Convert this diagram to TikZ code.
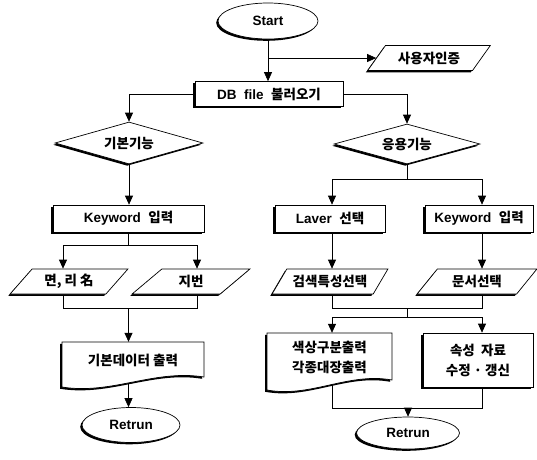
\documentclass[tikz,border=0pt]{standalone}
\usepackage{fontspec}
\setmainfont{Liberation Sans}
\newfontfamily\kr{Noto Sans CJK KR}
\usetikzlibrary{shapes.geometric,shadows,arrows.meta,backgrounds}
\newcommand\mydoc[5]{%
  \pgfmathsetmacro\cxa{#2-0.35*(#2-#1)}%
  \pgfmathsetmacro\cxb{#1+0.35*(#2-#1)}%
  \pgfmathsetmacro\cya{#4-8}%
  \pgfmathsetmacro\cyb{#5+8}%
  \fill[black,shift={(-1.8,1.8)}] (#1,#3) -- (#2,#3) -- (#2,#4) .. controls (\cxa,\cya) and (\cxb,\cyb) .. (#1,#5) -- cycle;
  \draw[fill=white,line width=0.7pt] (#1,#3) -- (#2,#3) -- (#2,#4) .. controls (\cxa,\cya) and (\cxb,\cyb) .. (#1,#5) -- cycle;}
\begin{document}
\begin{tikzpicture}[x=1pt,y=-1pt,
  every node/.style={font=\fontsize{13.5}{20}\selectfont\bfseries},
  shad/.style={drop shadow={shadow xshift=-1.8pt,shadow yshift=-1.8pt,fill=black,opacity=1}},
  box/.style={rectangle,draw,fill=white,line width=0.7pt,inner sep=0pt,align=center,shad},
  term/.style={ellipse,draw,fill=white,line width=0.7pt,inner sep=0pt,shad},
  dia/.style={diamond,aspect=3.5,draw,fill=white,line width=0.7pt,inner sep=0pt,shad},
  para/.style={trapezium,trapezium left angle=45,trapezium right angle=135,trapezium stretches=true,draw,fill=white,line width=0.7pt,inner sep=0pt,shad},
  txt/.style={rectangle,inner sep=0pt,align=center},
  arr/.style={-{Triangle[length=9pt,width=8pt]},line width=0.7pt},
  con/.style={line width=0.7pt}]
\useasboundingbox (0,0) rectangle (537,459);

\node[term,minimum width=100,minimum height=36] (start) at (268,21) {Start};
\node[para,minimum width=123,minimum height=25] (auth) at (429,58) {\kr 사용자인증};
\node[box,minimum width=148,minimum height=25] (db) at (269,94) {DB\ \ file\ \ {\kr 불러오기}};
\node[dia,minimum width=148,minimum height=42] (d1) at (129,143) {\kr 기본기능};
\node[dia,minimum width=146,minimum height=40] (d2) at (407,144) {\kr 응용기능};
\node[box,minimum width=151,minimum height=27] (k1) at (128.5,218.5) {Keyword\ \ {\kr 입력}};
\node[para,minimum width=118,minimum height=25] (p1) at (69,281.5) {\kr 면,\ 리\ 名};
\node[para,minimum width=118,minimum height=25] (p2) at (191,281.5) {\kr 지번};
\node[box,minimum width=110,minimum height=27] (k2l) at (330,218.5) {Laver\ \ {\kr 선택}};
\node[box,minimum width=108,minimum height=27] (k2r) at (479,218.5) {Keyword\ \ {\kr 입력}};
\node[para,minimum width=116,minimum height=25] (p3) at (330,281.5) {\kr 검색특성선택};
\node[para,minimum width=120,minimum height=25] (p4) at (477,281.5) {\kr 문서선택};

\mydoc{62}{204}{342}{377}{387}
\node[txt,minimum width=142,minimum height=36] (out1) at (133,360) {\kr 기본데이터\ 출력};
\mydoc{267}{392}{333}{380}{390}
\node[txt,minimum width=125,minimum height=48] (out2) at (329.5,357) {\kr 색상구분출력\\\kr 각종대장출력};
\node[box,minimum width=110,minimum height=54] (k3) at (478,360) {\kr 속성\ \ 자료\\\kr 수정\ ·\ 갱신};

\node[term,minimum width=98,minimum height=35] (ret1) at (131,425) {Retrun};
\node[term,minimum width=103,minimum height=32] (ret2) at (408,433) {Retrun};

\begin{pgfonlayer}{background}
\draw[arr] (start.south) -- (start.south |- db.north);
\draw[arr] (start.south |- auth.west) -- (auth.west);
\draw[arr] (db.west) -| (d1.north);
\draw[arr] (db.east) -| (d2.north);
\draw[arr] (d1.south) -- (d1.south |- k1.north);
% left branch
\coordinate (ja) at (63,245);
\coordinate (jb) at (197,245);
\draw[con] (k1.south) -- (k1.south |- ja);
\draw[con] (ja) -- (jb);
\draw[arr] (ja) -- (ja |- p1.north);
\draw[arr] (jb) -- (jb |- p2.north);
\coordinate (ma) at (63,308);
\coordinate (mb) at (197,308);
\draw[con] (ma |- p1.south) -- (ma) -- (mb) -- (mb |- p2.south);
\draw[arr] (k1.south |- ma) -- (k1.south |- out1.north);
\draw[arr] (k1.south |- out1.south) -- (k1.south |- ret1.north);
% right branch
\coordinate (ra) at (332,179);
\coordinate (rb) at (482,179);
\draw[con] (d2.south) -- (d2.south |- ra);
\draw[con] (ra) -- (rb);
\draw[arr] (ra) -- (ra |- k2l.north);
\draw[arr] (rb) -- (rb |- k2r.north);
\draw[arr] (ra |- k2l.south) -- (ra |- p3.north);
\draw[arr] (rb |- k2r.south) -- (rb |- p4.north);
\coordinate (sa) at (332,308);
\coordinate (sb) at (482,308);
\coordinate (ta) at (332,317);
\coordinate (tb) at (482,317);
\draw[con] (sa |- p3.south) -- (sa) -- (sb) -- (sb |- p4.south);
\draw[con] (d2.south |- sa) -- (d2.south |- ta);
\draw[con] (ta) -- (tb);
\draw[arr] (ta) -- (ta |- out2.north);
\draw[arr] (tb) -- (tb |- k3.north);
\coordinate (ua) at (332,408);
\coordinate (ub) at (482,408);
\draw[con] (ua |- out2.south) -- (ua) -- (ub) -- (ub |- k3.south);
\draw[arr] (ret2.north |- ua) -- (ret2.north);
\end{pgfonlayer}
\end{tikzpicture}
\end{document}
